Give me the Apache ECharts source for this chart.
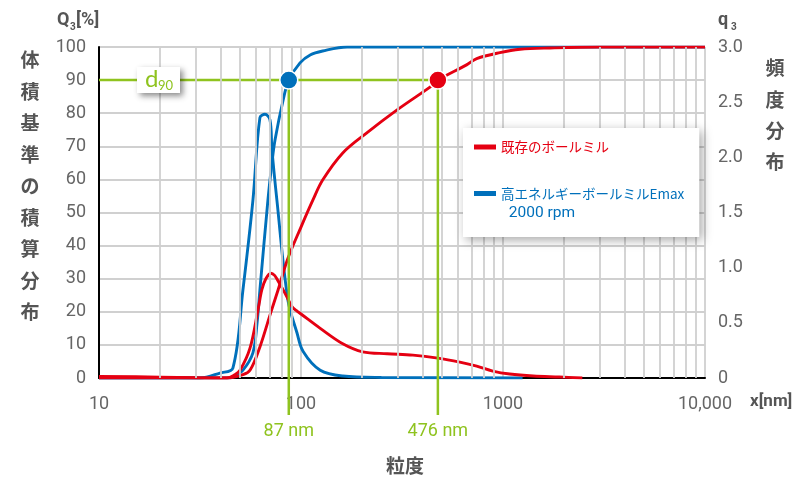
<!DOCTYPE html>
<html>
<head>
<meta charset="utf-8">
<script src="https://cdn.jsdelivr.net/npm/echarts@6/dist/echarts.min.js"></script>
<style>html,body{margin:0;padding:0;background:#fff}#c{width:812px;height:477px}</style>
</head>
<body>
<div id="c"></div>
<script>
// ---- data (x in nm) ----
const legendNames = ['既存のボールミル', '高エネルギーボールミルEmax'];
const legendSecondLine = ' 2000 rpm';
// cumulative Q3 [%] (left axis)
const redCumulative = [[10,0],[43,0],[51.6,1],[56,2.4],[62.6,9.4],[70.2,19],[77,26.6],[86,36],[100,45.6],[114.6,53.8],[128,59.8],[161,68],[211,74],[299,81],[449,88.5],[476,90],[660,94.6],[741,96.5],[965,98.3],[1215,99.3],[1707,99.7],[3000,100],[10000,100]];
const blueCumulative = [[10,0],[44,0],[46,0.3],[51.6,2.4],[57.8,7.6],[60.6,16.6],[62.6,26.6],[68.6,53.8],[71.8,65],[74.4,72],[81.6,84],[87,90],[98.9,95.2],[111,97.6],[128,98.8],[169,100],[10000,100]];
// density q3 (right axis)
const redDensity = [[10,0.015],[20,0.008],[30,0.002],[43,0],[47,0.03],[50,0.072],[55.9,0.27],[61.3,0.62],[64,0.8],[67,0.9],[71,0.95],[74,0.93],[77,0.88],[81,0.81],[86,0.72],[90,0.65],[95,0.61],[100,0.58],[124.5,0.45],[161,0.31],[202,0.237],[267,0.22],[358,0.207],[476,0.18],[611,0.144],[741,0.108],[890,0.063],[1080,0.036],[1412,0.018],[1900,0.009],[2470,0]];
const blueDensity = [[10,0],[31.6,0],[39.7,0.045],[46,0.09],[51.6,0.8],[57.8,1.61],[62.6,2.36],[66.3,2.39],[70.2,2.34],[71.8,2.07],[76,1.61],[86.1,0.71],[95.5,0.41],[102.5,0.24],[124.5,0.07],[161,0.018],[250,0.005],[1250,0]];
// d90 markers
const d90Level = 90;
const d90Values = [87, 476];
const d90Labels = ['87 nm', '476 nm'];
// axis ticks
const xTickLabels = {10:'10', 100:'100', 1000:'1000', 10000:'10,000'};
const minorGridValues = [20,30,40,50,60,70,80,90,200,300,400,500,600,700,800,900,2000,3000,4000,5000,6000,7000,8000,9000];
const leftTicks = {min:0, max:100, interval:10};
const rightTicks = {min:0, max:3, interval:0.5};

// ---- styles ----
const RED = '#e50012', BLUE = '#0070bb', GREEN = '#8fc31f', GREY = '#666', DARK = '#555', GRID = '#d0d0d0';
const NUMFONT = 'Roboto';
const CJK = '"Noto Sans CJK JP"';

const chart = echarts.init(document.getElementById('c'), null, {renderer:'canvas'});

const curve = (name, data, color, yIdx) => ({
  name, type:'line', data, yAxisIndex:yIdx, symbol:'none', smooth:0.35, z:3,
  lineStyle:{color, width:2.9}, itemStyle:{color}, animation:false
});

chart.setOption({
  animation:false,
  grid:{left:99, right:107, top:47, bottom:99},
  legend:{
    data:[{name:legendNames[0], textStyle:{color:RED}}, {name:legendNames[1], textStyle:{color:BLUE}}],
    orient:'vertical', left:463, top:128, icon:'rect', itemWidth:22, itemHeight:5, itemGap:30.5,
    padding:[11,15,35.5,11], backgroundColor:'#fff',
    shadowBlur:10, shadowColor:'rgba(0,0,0,0.35)', shadowOffsetX:3, shadowOffsetY:3,
    textStyle:{fontSize:13.5, fontFamily:'"Noto Sans CJK JP", Roboto', lineHeight:16},
    selectedMode:false, z:6
  },
  xAxis:{
    type:'log', logBase:10, min:10, max:10000,
    axisLine:{show:true, lineStyle:{color:'#000', width:2}},
    axisTick:{show:false},
    axisLabel:{color:GREY, fontSize:18, fontFamily:NUMFONT, margin:17,
      formatter:v => xTickLabels[Math.round(v)] || ''},
    splitLine:{show:true, lineStyle:{color:GRID, width:1.8}}
  },
  yAxis:[{
    type:'value', position:'left', min:leftTicks.min, max:leftTicks.max, interval:leftTicks.interval,
    axisLine:{show:true, lineStyle:{color:'#000', width:2}},
    axisTick:{show:false},
    axisLabel:{color:GREY, fontSize:18, fontFamily:NUMFONT, margin:13},
    splitLine:{show:true, lineStyle:{color:GRID, width:1.8}}
  },{
    type:'value', position:'right', min:rightTicks.min, max:rightTicks.max, interval:rightTicks.interval,
    axisLine:{show:false}, axisTick:{show:false},
    axisLabel:{color:GREY, fontSize:18, fontFamily:NUMFONT, margin:13,
      formatter:v => v === 0 ? '0' : v.toFixed(1)},
    splitLine:{show:false}
  }],
  series:[
    {name:'minorGrid', type:'line', data:[], z:1, silent:true, symbol:'none',
     markLine:{silent:true, symbol:['none','none'], label:{show:false}, animation:false,
       lineStyle:{color:GRID, width:1.8, type:'solid'},
       emphasis:{disabled:true},
       data:minorGridValues.map(v => ({xAxis:v}))}},
    curve(legendNames[1], blueDensity, BLUE, 1),
    curve(legendNames[1], blueCumulative, BLUE, 0),
    curve(legendNames[0], redDensity, RED, 1),
    curve(legendNames[0], redCumulative, RED, 0),
    {name:'d90', type:'scatter', yAxisIndex:0, z:10, zlevel:0, symbolSize:18, silent:true,
     data:d90Values.map((v,i) => ({value:[v, d90Level], itemStyle:{color: i===0 ? BLUE : RED}})),
     itemStyle:{borderColor:'#fff', borderWidth:1.5, opacity:1},
     emphasis:{disabled:true}}
  ]
});

// annotations positioned through the chart's own scales
const px = (x, y) => chart.convertToPixel({xAxisIndex:0, yAxisIndex:0}, [x, y]);
const pLeft = px(10, d90Level);
const pA = px(d90Values[0], d90Level), pB = px(d90Values[1], d90Level);
const yZero = px(10, 0)[1];
const txt = (x, y, text, o) => Object.assign({type:'text', z:20, style:Object.assign({x, y, text,
  fill:DARK, fontSize:18, fontFamily:NUMFONT, align:'left', verticalAlign:'middle',
  textAlign:'left', textVerticalAlign:'middle'}, o || {})});
const center = {align:'center', textAlign:'center'};

const graphics = [
  {type:'line', z:4, shape:{x1:pLeft[0], y1:pLeft[1], x2:pB[0], y2:pB[1]}, style:{stroke:GREEN, lineWidth:2.5}},
  {type:'line', z:4, shape:{x1:pA[0], y1:pA[1], x2:pA[0], y2:yZero + 37}, style:{stroke:GREEN, lineWidth:2.5}},
  {type:'line', z:4, shape:{x1:pB[0], y1:pB[1], x2:pB[0], y2:yZero + 37}, style:{stroke:GREEN, lineWidth:2.5}},
  txt(pA[0], yZero + 53, d90Labels[0], Object.assign({fill:GREEN, fontSize:18}, center)),
  txt(pB[0], yZero + 53, d90Labels[1], Object.assign({fill:GREEN, fontSize:18}, center)),
  // d90 box
  {type:'rect', z:8, shape:{x:137, y:67, width:43, height:26},
   style:{fill:'#fff', shadowBlur:6, shadowColor:'rgba(0,0,0,0.45)', shadowOffsetX:3, shadowOffsetY:3}},
  txt(145, 79, 'd', {fill:GREEN, fontSize:24, fontFamily:'Lato'}),
  txt(158, 86, '90', {fill:GREEN, fontSize:13, fontFamily:'Lato'}),
  // axis titles
  txt(57, 20, 'Q', {fontWeight:'bold'}),
  txt(70, 27, '3', {fontSize:10, fontWeight:'bold'}),
  txt(76, 20, '[%]', {fontWeight:'bold'}),
  txt(718, 20, 'q', {fontWeight:'bold'}),
  txt(731, 27, '3', {fontSize:10, fontWeight:'bold'}),
  txt(750, 402, 'x[nm]', {fontWeight:'bold', fontSize:17}),
  txt(405, 466, '粒度', Object.assign({fontWeight:'bold', fontSize:19, fontFamily:CJK}, center)),
  {type:'text', z:20, style:{x:30, y:44.5, text:'体\n積\n基\n準\nの\n積\n算\n分\n布', lineHeight:31.5,
    fill:DARK, fontSize:19, fontWeight:'bold', fontFamily:CJK, align:'center', textAlign:'center', verticalAlign:'top', textVerticalAlign:'top'}},
  {type:'text', z:20, style:{x:775, y:52.5, text:'頻\n度\n分\n布', lineHeight:31.3,
    fill:DARK, fontSize:19, fontWeight:'bold', fontFamily:CJK, align:'center', textAlign:'center', verticalAlign:'top', textVerticalAlign:'top'}},
  txt(505, 213, legendSecondLine, {fill:BLUE, fontSize:15.5, fontFamily:'Roboto'})
];
chart.setOption({graphic:graphics});
</script>
</body>
</html>
